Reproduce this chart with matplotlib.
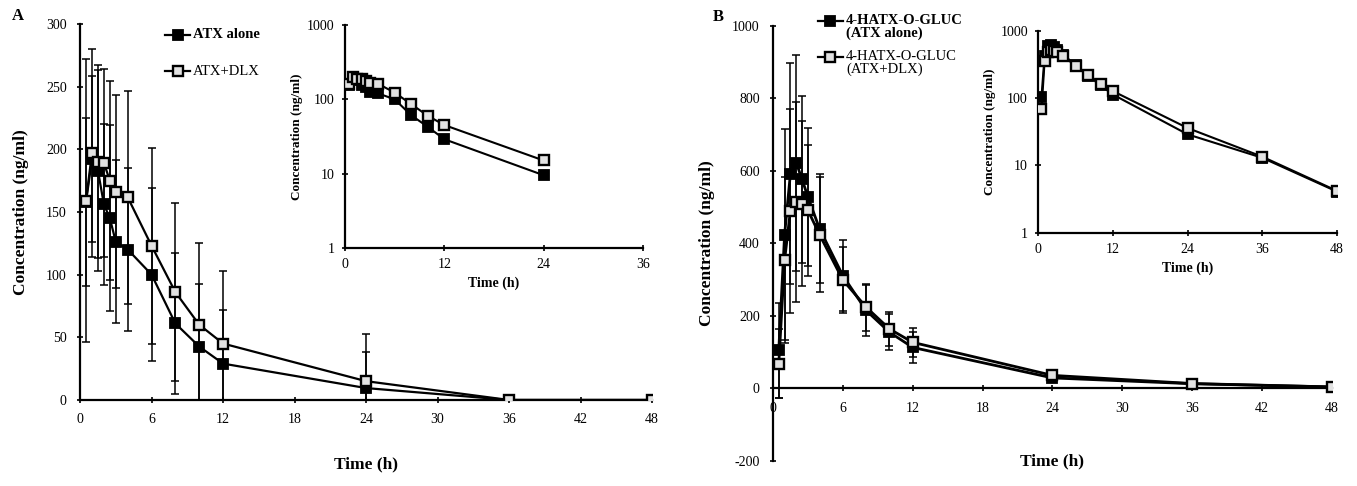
import matplotlib
matplotlib.use('Agg')
import matplotlib.pyplot as plt
from matplotlib.lines import Line2D
import numpy as np

plt.rcParams['font.family'] = ['Liberation Serif', 'DejaVu Serif']
plt.rcParams['axes.unicode_minus'] = False

# sampling times (h)
time_h = [0.5, 1, 1.5, 2, 2.5, 3, 4, 6, 8, 10, 12, 24, 36, 48]

# panel A: atomoxetine (ng/ml)
atx_alone = [158, 192, 183, 156, 145, 126, 120, 100, 61, 42.6, 29, 9.5, 0, 0]
atx_alone_sd = [67, 66, 80, 64, 74, 65, 65, 69, 56, 50, 43, 28.5, 0, 0]
atx_dlx = [159, 197, 190, 189, 175, 166, 161.6, 123, 86, 60, 45, 15, 0, 0]
atx_dlx_sd = [113, 83, 77, 75, 79, 77, 85, 78, 71, 65, 58, 38, 0, 0]

# panel B: 4-HATX-O-glucuronide (ng/ml)
gluc_alone = [105, 424, 592, 622, 576, 528, 440, 311, 215, 155, 113, 29, 13, 4.1]
gluc_alone_sd = [130, 290, 305, 297, 230, 191, 150, 97, 70, 50, 43, 10, 5, 2]
gluc_dlx = [68, 354, 490, 514, 509, 491, 424, 299, 224, 164, 127, 36, 13.5, 4.2]
gluc_dlx_sd = [95, 230, 281, 276, 228, 181, 158, 91, 65, 47, 40, 12, 5, 2]

labels_a = ['ATX alone', 'ATX+DLX']
labels_b = [['4-HATX-O-GLUC', '(ATX alone)'], ['4-HATX-O-GLUC', '(ATX+DLX)']]

filled = dict(color='black', marker='s', mfc='black', mec='black', mew=1.3)
hollow = dict(color='black', marker='s', mfc='#e2e2e2', mec='black', mew=1.7)


def style_axes(ax, fs=10):
    ax.spines['top'].set_visible(False)
    ax.spines['right'].set_visible(False)
    ax.spines['left'].set_linewidth(1.6)
    ax.spines['bottom'].set_linewidth(1.6)
    ax.tick_params(direction='inout', length=5, width=1.2, labelsize=fs, pad=7)


def draw_main(ax, y1, e1, y2, e2, ms=7.5, lw=1.6):
    t = np.array(time_h)
    ax.errorbar(t, y1, yerr=e1, fmt='none', ecolor='black', elinewidth=1.1,
                capsize=3.2, capthick=1.1, zorder=2)
    ax.errorbar(t, y2, yerr=e2, fmt='none', ecolor='black', elinewidth=1.1,
                capsize=3.2, capthick=1.1, zorder=2)
    ax.plot(t, y1, lw=lw, ms=ms, zorder=3, **filled)
    ax.plot(t, y2, lw=lw, ms=ms, zorder=4, **hollow)


def draw_inset(ax, y1, y2, ms=6.5):
    t = np.array(time_h)
    y1 = np.array(y1, dtype=float)
    y2 = np.array(y2, dtype=float)
    k1 = y1 > 0
    k2 = y2 > 0
    ax.plot(t[k1], y1[k1], lw=1.5, ms=ms, zorder=3, **filled)
    ax.plot(t[k2], y2[k2], lw=1.5, ms=ms, zorder=4, **hollow)
    ax.set_yscale('log')
    ax.set_ylim(1, 1000)
    ax.set_yticks([1, 10, 100, 1000])
    ax.set_yticklabels(['1', '10', '100', '1000'])
    ax.minorticks_off()
    style_axes(ax, 10)
    ax.tick_params(pad=5)
    ax.set_ylabel('Concentration (ng/ml)', fontsize=9.5, fontweight='bold', labelpad=3)
    ax.set_xlabel('Time (h)', fontsize=10, fontweight='bold', labelpad=4)


def legend_entry(fig, x, y, style, lines, weight):
    W, H = 1357.0, 486.0
    fig.add_artist(Line2D([x / W, (x + 25) / W], [1 - y / H, 1 - y / H],
                          transform=fig.transFigure, color='black', lw=1.6))
    st = dict(style)
    st.pop('color')
    fig.add_artist(Line2D([(x + 12.5) / W], [1 - y / H], transform=fig.transFigure,
                          ls='none', ms=7, **st))
    for i, s in enumerate(lines):
        fig.text((x + 28) / W, 1 - (y + i * 12.8) / H, s, fontsize=10.5,
                 fontweight=weight, va='center', ha='left')


fig = plt.figure(figsize=(13.57, 4.86), dpi=100)

# ---- panel A ----
axA = fig.add_axes([0.059, 0.177, 0.4215, 0.774])
draw_main(axA, atx_alone, atx_alone_sd, atx_dlx, atx_dlx_sd)
axA.set_xlim(0, 48)
axA.set_ylim(0, 300)
axA.set_xticks(range(0, 49, 6))
axA.set_yticks(range(0, 301, 50))
style_axes(axA)
axA.set_ylabel('Concentration (ng/ml)', fontsize=12.5, fontweight='bold', labelpad=12)
axA.set_xlabel('Time (h)', fontsize=12.5, fontweight='bold', labelpad=22)

insA = fig.add_axes([0.2542, 0.490, 0.2196, 0.4586])
draw_inset(insA, atx_alone, atx_dlx)
insA.set_xlim(0, 36)
insA.set_xticks([0, 12, 24, 36])

legend_entry(fig, 165, 35, filled, [labels_a[0]], 'bold')
legend_entry(fig, 165, 71, hollow, [labels_a[1]], 'normal')
fig.text(12 / 1357, 1 - 16 / 486, 'A', fontsize=12, fontweight='bold', va='center')

# ---- panel B ----
axB = fig.add_axes([0.5696, 0.0514, 0.412, 0.896])
draw_main(axB, gluc_alone, gluc_alone_sd, gluc_dlx, gluc_dlx_sd, lw=2.0)
axB.set_xlim(0, 48)
axB.set_ylim(-200, 1000)
axB.set_xticks(range(0, 49, 6))
axB.set_yticks(range(-200, 1001, 200))
style_axes(axB)
axB.spines['bottom'].set_position(('data', 0))
axB.set_ylabel('Concentration (ng/ml)', fontsize=12.5, fontweight='bold', labelpad=12)
axB.text(0.5, 0.0, 'Time (h)', transform=axB.transAxes, fontsize=12.5,
         fontweight='bold', ha='center', va='center')

insB = fig.add_axes([0.7652, 0.521, 0.22, 0.4155])
draw_inset(insB, gluc_alone, gluc_dlx)
insB.set_xlim(0, 48)
insB.set_xticks([0, 12, 24, 36, 48])

legend_entry(fig, 818, 20.7, filled, labels_b[0], 'bold')
legend_entry(fig, 818, 56.7, hollow, labels_b[1], 'normal')
fig.text(713 / 1357, 1 - 17 / 486, 'B', fontsize=12, fontweight='bold', va='center')

fig.savefig('out.png', dpi=100)
